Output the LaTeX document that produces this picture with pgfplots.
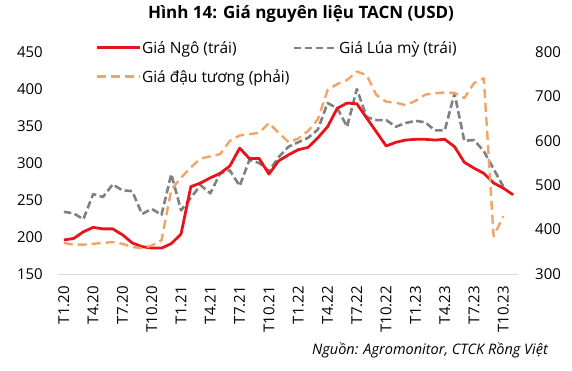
\documentclass[border=0pt]{standalone}
\usepackage{fontspec}
\setmainfont{Open Sans}
\usepackage{pgfplots}
\usepackage{pgfplotstable}
\pgfplotsset{compat=1.18}
\definecolor{cred}{HTML}{E8141B}
\definecolor{cgray}{HTML}{808080}
\definecolor{corange}{HTML}{F2A366}
\definecolor{axisgray}{HTML}{D9D9D9}

\pgfplotstableread{
i v
0 196
1 198
2 207
3 213
4 211
5 211
6 203
7 192
8 187
9 185
10 185
11 191
12 204
13 268
14 273
15 280
16 286
17 296
18 320
19 306
20 306
21 285
22 303
23 311
24 318
25 321
26 334
27 349
28 374
29 381
30 380
31 361
32 342
33 323
34 328
35 331
36 332
37 332
38 331
39 332
40 322
41 301
42 293
43 286
44 273
45 266
46 257
}\ngo

\pgfplotstableread{
i v
0 234
1 232
2 224
3 258
4 254
5 271
6 263
7 262
8 231
9 238
10 230
11 285
12 236
13 253
14 270
15 259
16 286
17 290
18 269
19 304
20 300
21 289
22 308
23 322
24 328
25 334
26 345
27 381
28 374
29 349
30 400
31 362
32 358
33 358
34 349
35 354
36 357
37 355
38 344
39 344
40 394
41 330
42 331
43 316
44 292
45 268
}\lua

\pgfplotstableread{
i v
0 370
1 366
2 366
3 368
4 370
5 372
6 368
7 361
8 358
9 364
10 376
11 490
12 517
13 540
14 560
15 565
16 570
17 600
18 612
19 615
20 618
21 640
22 618
23 597
24 605
25 622
26 648
27 714
28 728
29 737
30 756
31 748
32 703
33 688
34 686
35 680
36 690
37 704
38 707
39 709
40 708
41 696
42 730
43 741
44 385
45 430
}\dau

\begin{document}
\begin{tikzpicture}[x=1pt,y=1pt]
\useasboundingbox (0,0) rectangle (572,371);
\pgfplotsset{
  common/.style={
    at={(58pt,97pt)}, anchor=south west,
    scale only axis, width=460pt, height=222pt,
    xmin=-0.6, xmax=46.5,
    major tick length=0pt,
    /pgf/number format/assume math mode=true,
    tick label style={font=\fontsize{15}{18}\selectfont},
    clip=false,
  },
}
\begin{axis}[common,
  ymin=150, ymax=450, ytick={150,200,...,450},
  axis x line*=bottom, axis y line*=left,
  y axis line style={draw=none},
  x axis line style={draw=axisgray, line width=0.9pt},
  xtick={0,3,...,45},
  xticklabels={T1.20,T4.20,T7.20,T10.20,T1.21,T4.21,T7.21,T10.21,T1.22,T4.22,T7.22,T10.22,T1.23,T4.23,T7.23,T10.23},
  xticklabel style={yshift=-12pt, rotate=90, anchor=east, inner sep=0pt},
  yticklabel style={anchor=east, inner sep=0pt, xshift=-15pt},
  legend style={draw=none, fill=none, at={(34pt,236pt)}, anchor=north west,
    legend columns=2, row sep=13pt,
    font=\fontsize{15.5}{18}\selectfont,
    nodes={inner sep=1pt},
    /tikz/every even column/.append style={column sep=2pt}},
  legend cell align=left,
  legend image code/.code={\draw[#1] (0pt,0pt) -- (43pt,0pt);},
]
\addplot[cgray, line width=2.6pt, dash pattern=on 7.5pt off 3.5pt, line join=round, forget plot] table[x=i,y=v] {\lua};
\addplot[cred, line width=2.8pt, line join=round, forget plot] table[x=i,y=v] {\ngo};
\addlegendimage{cred, line width=2.8pt}
\addlegendentry{Giá Ngô (trái)}
\addlegendimage{cgray, line width=2.6pt, dash pattern=on 7.5pt off 3.5pt}
\addlegendentry{Giá Lúa mỳ (trái)}
\addlegendimage{corange, line width=2.4pt, dash pattern=on 9pt off 5pt}
\addlegendentry{Giá đậu tương (phải)}
\end{axis}
\begin{axis}[common,
  ymin=300, ymax=800, ytick={300,400,...,800},
  axis x line=none, axis y line*=right,
  y axis line style={draw=none},
  yticklabel style={anchor=west, inner sep=0pt, xshift=17pt},
]
\addplot[corange, line width=2.4pt, dash pattern=on 9pt off 5pt, line join=round] table[x=i,y=v] {\dau};
\end{axis}
\node[anchor=base, font=\bfseries\fontsize{17}{20}\selectfont, inner sep=0pt] at (301,352) {Hình 14: Giá nguyên liệu TACN (USD)};
\node[anchor=east, font=\itshape\fontsize{14.5}{17}\selectfont, inner sep=0pt] at (548,21) {Nguồn: Agromonitor, CTCK Rồng Việt};
\end{tikzpicture}
\end{document}
